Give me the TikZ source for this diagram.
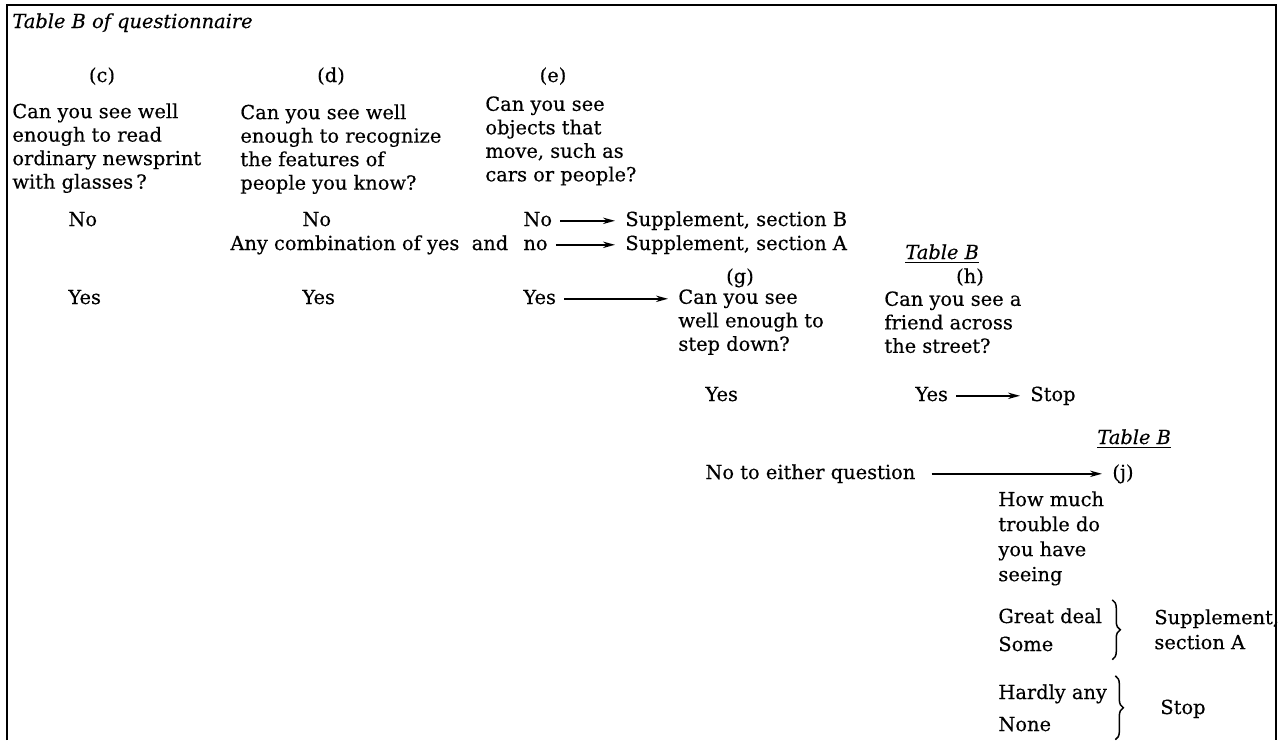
\documentclass[tikz,border=0pt]{standalone}
\usepackage{fontspec}
\setmainfont{DejaVu Serif}[FakeBold=0.4]
\usetikzlibrary{arrows.meta,decorations.pathreplacing}
\newcommand{\qsize}{\fontsize{9.7}{11.75}\selectfont}

\begin{document}
\begin{tikzpicture}[x=0.5pt,y=-0.5pt,
  txt/.style={anchor=base west,inner sep=0pt,font=\qsize},
  qst/.style={anchor=north west,align=left,inner sep=0pt,font=\qsize},
  tag/.style={anchor=base,inner sep=0pt,font=\qsize},
  tab/.style={anchor=base west,inner sep=0pt,font=\qsize\itshape},
  flow/.style={-{Stealth[length=6pt,width=3.2pt]},line width=0.85pt,shorten <=4pt,shorten >=5pt},
  brc/.style={decorate,decoration={brace,amplitude=4pt},line width=0.75pt}]
\useasboundingbox (0,0) rectangle (1279,740);
\draw[line width=1pt] (7,740) -- (7,5) -- (1276,5) -- (1276,740);
\node[tab] (title) at (12,28) {Table B of questionnaire};

\node[tag] (ctag) at (102,82) {(c)};
\node[tag] (dtag) at (331,82) {(d)};
\node[tag] (etag) at (553,82) {(e)};
\node[qst] (qc) at (12,103) {Can you see well\\enough to read\\ordinary newsprint\\with glasses\,?};
\node[qst] (qd) at (240,104) {Can you see well\\enough to recognize\\the features of\\people you know?};
\node[qst] (qe) at (485,96) {Can you see\\objects that\\move, such as\\cars or people?};

\node[txt] (cno) at (68,226) {No};
\node[txt] (cyes) at (68,304) {Yes};
\node[txt] (dno) at (302,226) {No};
\node[txt] (dany) at (230,250) {Any combination of yes\ \ and};
\node[txt] (dyes) at (302,304) {Yes};
\node[txt] (eno) at (523,226) {No};
\node[txt] (eno2) at (523,250) {no};
\node[txt] (eyes) at (523,304) {Yes};
\node[txt] (supB) at (625,226) {Supplement, section B};
\node[txt] (supA) at (625,250) {Supplement, section A};

\node[tag] (gtag) at (740,283) {(g)};
\node[qst] (qg) at (678,289) {Can you see\\well enough to\\step down?};
\node[tab] (htab) at (905,259) {\underline{Table B}};
\node[tag] (htag) at (970,283) {(h)};
\node[qst] (qh) at (884,291) {Can you see a\\friend across\\the street?};

\node[txt] (gyes) at (705,401) {Yes};
\node[txt] (hyes) at (915,401) {Yes};
\node[txt] (hstop) at (1030,401) {Stop};

\node[tab] (jtab) at (1097,444) {\underline{Table B}};
\node[txt] (either) at (705,479) {No to either question};
\node[txt] (jtag) at (1112,479) {(j)};
\node[qst,font=\fontsize{9.7}{12.5}\selectfont] (qj) at (998,491) {How much\\trouble do\\you have\\seeing};

\node[txt] (gd) at (998,623) {Great deal};
\node[txt] (some) at (998,651) {Some};
\node[txt] (ha) at (998,699) {Hardly any};
\node[txt] (none) at (998,731) {None};
\node[qst,font=\fontsize{9.7}{12.5}\selectfont] (supp) at (1154,609) {Supplement,\\section A};
\node[txt] (stop) at (1160,714) {Stop};

\draw[flow] ([yshift=2.6pt]eno.base east) -- ([yshift=2.6pt]supB.base west);
\draw[flow] ([yshift=2.6pt]eno2.base east) -- ([yshift=2.6pt]supA.base west);
\draw[flow] ([yshift=2.6pt]eyes.base east) -- ([yshift=2.6pt]eyes.base east -| qg.west);
\draw[flow] ([yshift=2.6pt]hyes.base east) -- ([yshift=2.6pt]hstop.base west);
\draw[flow,shorten <=8pt] ([yshift=2.6pt]either.base east) -- ([yshift=2.6pt]jtag.base west);

\draw[brc] ([shift={(5pt,4pt)}]gd.north east) -- ([shift={(5pt,-4pt)}]gd.north east |- some.south);
\draw[brc] ([shift={(4pt,4pt)}]ha.north east) -- ([shift={(4pt,-4pt)}]ha.north east |- none.south);
\end{tikzpicture}
\end{document}
